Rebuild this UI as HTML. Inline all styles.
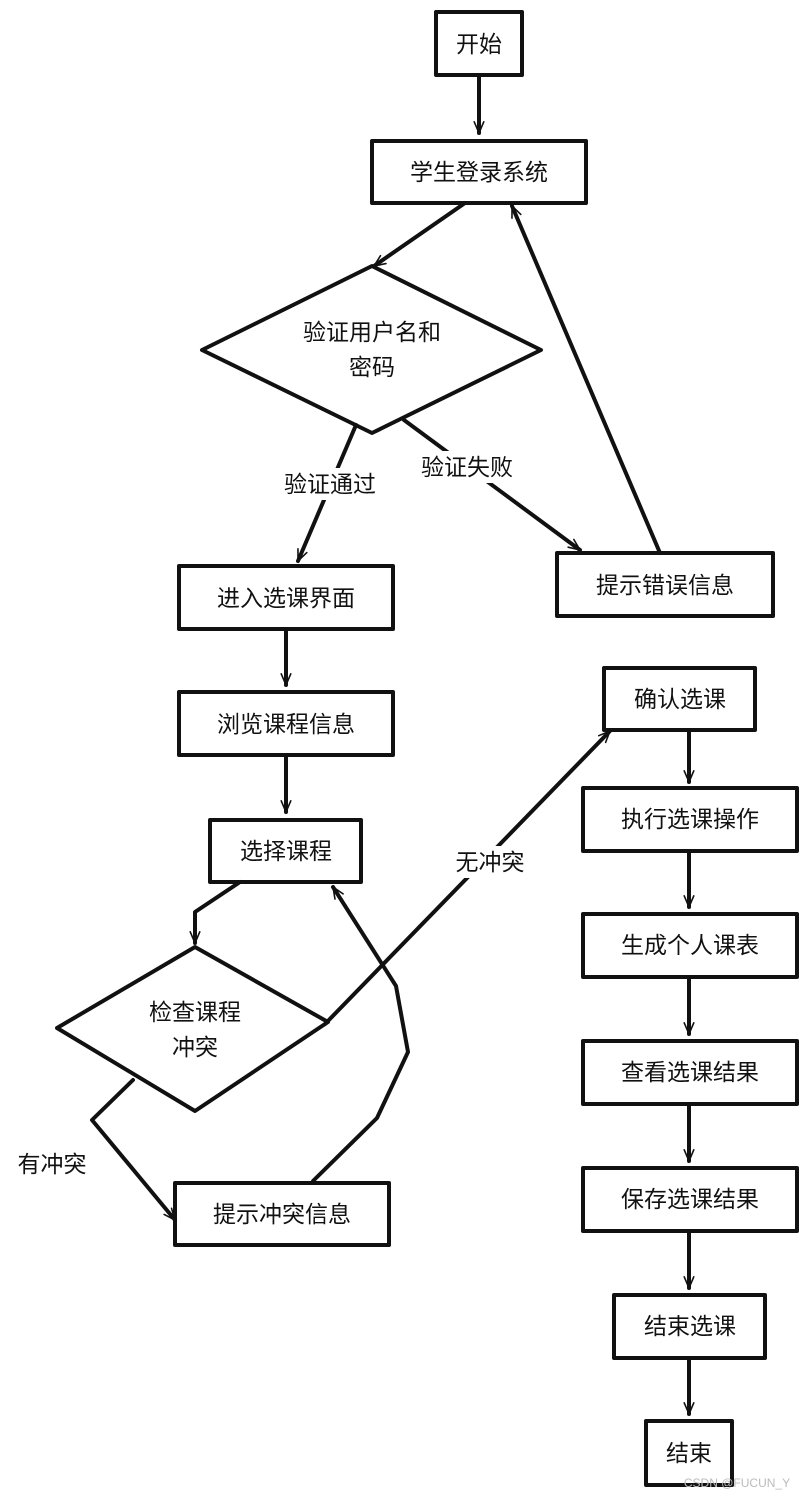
<!DOCTYPE html>
<html><head><meta charset="utf-8"><style>
body{margin:0;background:#fff}
svg text{font-family:"Liberation Sans","Noto Sans CJK SC",sans-serif;font-size:23px;fill:#111;text-anchor:middle;dominant-baseline:central}
</style></head><body>
<svg width="809" height="1497" viewBox="0 0 809 1497" xmlns="http://www.w3.org/2000/svg">
<defs>
<marker id="a" viewBox="0 0 20 20" refX="18" refY="10" markerWidth="8" markerHeight="8" markerUnits="userSpaceOnUse" orient="auto" overflow="visible">
<path d="M-10,-2 L18,10 L-10,22" fill="none" stroke="#111" stroke-width="4" stroke-linecap="round" stroke-linejoin="round" transform="scale(1)"/>
</marker>
</defs>
<g fill="none" stroke="#111" stroke-width="4" stroke-linejoin="round" stroke-linecap="round">
<rect x="436" y="12" width="86" height="63"/>
<rect x="372" y="141" width="214" height="62"/>
<polygon points="202,350 372,266 541,350 372,433"/>
<rect x="557" y="553" width="216" height="63"/>
<rect x="179" y="566" width="214" height="63"/>
<rect x="179" y="692" width="214" height="63"/>
<rect x="210" y="820" width="151" height="62"/>
<polygon points="57,1028 195,947 328,1022 195,1111"/>
<rect x="175" y="1183" width="214" height="62"/>
<rect x="604" y="668" width="151" height="62"/>
<rect x="583" y="788" width="214" height="63"/>
<rect x="583" y="914" width="214" height="63"/>
<rect x="583" y="1041" width="214" height="63"/>
<rect x="583" y="1168" width="214" height="63"/>
<rect x="614" y="1295" width="151" height="63"/>
<rect x="646" y="1421" width="86" height="64"/>
<g marker-end="url(#a)">
<path d="M479,75 L479,133"/>
<path d="M465,203 L374,266"/>
<path d="M356,425 L298,561"/>
<path d="M404,420 L580,550"/>
<path d="M660,553 L512,206"/>
<path d="M286,629 L286,685"/>
<path d="M286,755 L286,812"/>
<path d="M240,882 L195,912 L195,943"/>
<path d="M325,1024 L610,731"/>
<path d="M133,1080 L92,1120 L175,1220"/>
<path d="M313,1181 L377,1118 L408,1052 L396,986 L333,887"/>
<path d="M689,730 L689,782"/>
<path d="M689,851 L689,907"/>
<path d="M689,977 L689,1034"/>
<path d="M689,1104 L689,1161"/>
<path d="M689,1231 L689,1288"/>
<path d="M689,1358 L689,1414"/>
</g>
</g>
<g fill="#fff">
<rect x="275" y="468" width="110" height="32"/>
<rect x="412" y="451" width="110" height="32"/>
<rect x="446" y="846" width="88" height="32"/>
<rect x="10" y="1148" width="84" height="32"/>
</g>
<text x="479" y="44">开始</text>
<text x="479" y="172">学生登录系统</text>
<text x="372" y="332">验证用户名和</text>
<text x="372" y="367">密码</text>
<text x="330" y="484">验证通过</text>
<text x="467" y="467">验证失败</text>
<text x="665" y="585">提示错误信息</text>
<text x="286" y="598">进入选课界面</text>
<text x="286" y="724">浏览课程信息</text>
<text x="286" y="851">选择课程</text>
<text x="195" y="1012">检查课程</text>
<text x="195" y="1047">冲突</text>
<text x="490" y="862">无冲突</text>
<text x="52" y="1164">有冲突</text>
<text x="282" y="1214">提示冲突信息</text>
<text x="680" y="699">确认选课</text>
<text x="690" y="819">执行选课操作</text>
<text x="690" y="945">生成个人课表</text>
<text x="690" y="1072">查看选课结果</text>
<text x="690" y="1199">保存选课结果</text>
<text x="690" y="1326">结束选课</text>
<text x="689" y="1453">结束</text>
<text x="737" y="1483" style="font-size:12px;fill:#bbb">CSDN @FUCUN_Y</text>
</svg>
</body></html>
